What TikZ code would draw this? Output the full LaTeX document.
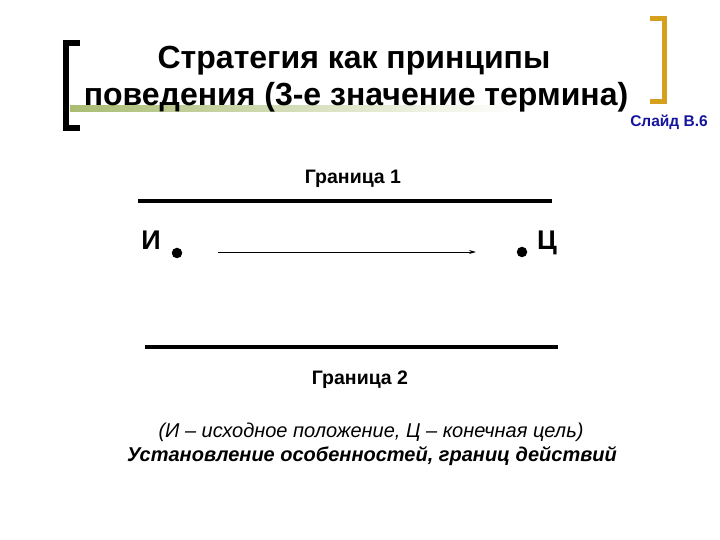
\documentclass[tikz,border=0pt]{standalone}
\usepackage{fontspec}
\setmainfont{Liberation Sans}
\usetikzlibrary{arrows.meta}
\definecolor{olivebar}{RGB}{170,188,115}
\definecolor{goldbr}{RGB}{212,160,30}
\definecolor{slideblue}{RGB}{20,20,160}
\tikzset{
  title/.style={font=\bfseries\fontsize{32}{36}\selectfont, anchor=base},
  lbl/.style={font=\bfseries\fontsize{19.5}{22}\selectfont, anchor=base},
  pt/.style={circle, fill=black, inner sep=0pt, minimum size=10.5pt},
  letter/.style={font=\bfseries\fontsize{27}{30}\selectfont, anchor=base},
  border/.style={line width=4pt},
}
\begin{document}
\begin{tikzpicture}[x=1pt,y=1pt]
\useasboundingbox (0,0) rectangle (720,540);
% gradient bar
\shade[left color=olivebar, right color=white] (70,428) rectangle (520,434);
% left bracket
\draw[line width=6pt, line cap=butt] (80,497) -- (66,497) -- (66,412) -- (80,412);
% right bracket
\draw[goldbr, line width=5pt] (650,521) -- (664,521) -- (664,438) -- (650,438);
% title
\node[title] (t1) at (354,471) {Стратегия как принципы};
\node[title] (t2) at (356,434) {поведения (3-е значение термина)};
\node[font=\bfseries\fontsize{15.5}{17}\selectfont, text=slideblue, anchor=base] (sl) at (669,413) {Слайд В.6};
% boundaries
\node[lbl] (g1) at (353,356) {Граница 1};
\coordinate (b1l) at (138,339);
\coordinate (b1r) at (552,339);
\draw[border] (b1l) -- (b1r);
\coordinate (b2l) at (145,193);
\coordinate (b2r) at (558,193);
\draw[border] (b2l) -- (b2r);
\node[lbl] (g2) at (360,155) {Граница 2};
% points
\node[letter] (I) at (151,290) {И};
\node[pt] (p1) at (177,287) {};
\node[pt] (p2) at (522,288) {};
\node[letter] (C) at (547,290) {Ц};
\coordinate (a1) at (218,288);
\coordinate (a2) at (476,288);
\draw[line width=0.9pt, -{Stealth[length=7pt,width=4pt]}] (a1) -- (a2);
% notes
\node[font=\itshape\fontsize{20}{23}\selectfont, anchor=base] (n1) at (371,102) {(И – исходное положение, Ц – конечная цель)};
\node[font=\bfseries\itshape\fontsize{20}{23}\selectfont, anchor=base] (n2) at (372,78) {Установление особенностей, границ действий};
\end{tikzpicture}
\end{document}
